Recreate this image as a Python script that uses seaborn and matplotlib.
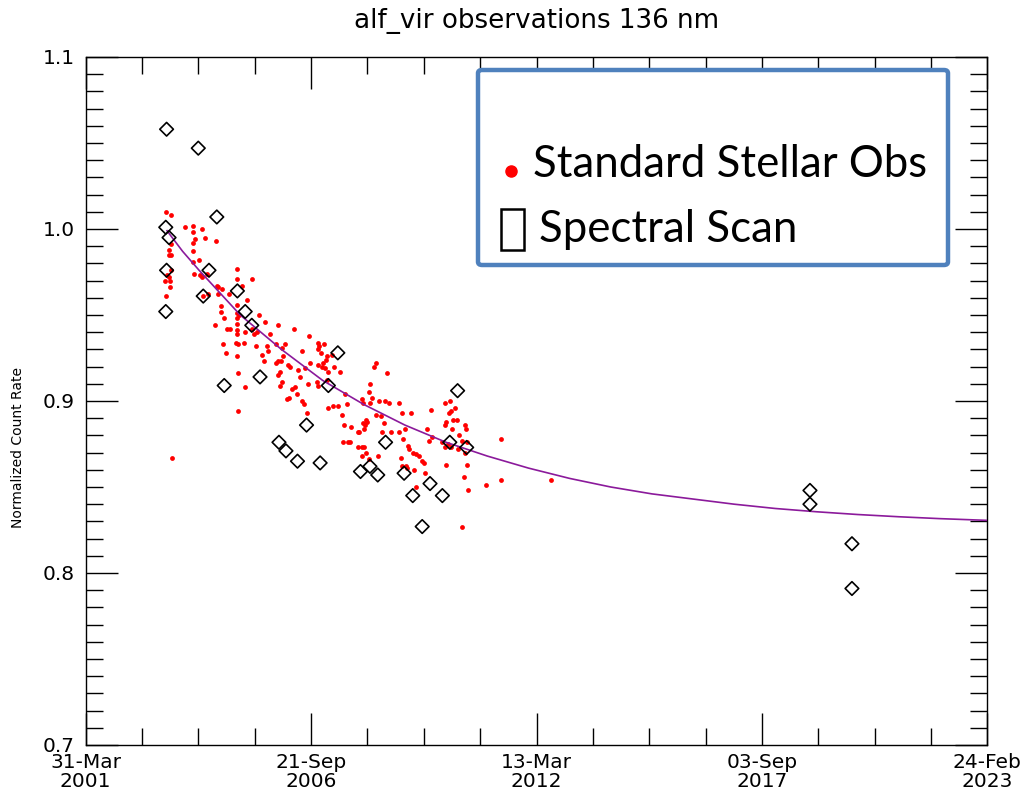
import numpy as np
import pandas as pd
import matplotlib
matplotlib.use("Agg")
import matplotlib.pyplot as plt
import matplotlib.dates as mdates
from matplotlib.ticker import FixedLocator, MultipleLocator, FormatStrFormatter
from matplotlib.patches import FancyBboxPatch, Rectangle
from matplotlib.lines import Line2D
import seaborn as sns

# ---------------- data (decimal years, normalized count rate) ----------------
stellar_year = [
    2003.19, 2003.31, 2003.66, 2003.85, 2003.86, 2004.08, 2004.14, 2003.89, 2003.86, 2004.41,
    2003.31, 2003.28, 2003.26, 2003.32, 2003.85, 2004.00, 2003.86, 2003.32, 2003.23, 2003.28,
    2003.29, 2003.18, 2003.87, 2004.02, 2004.06, 2004.19, 2004.93, 2004.93, 2005.28, 2005.05,
    2004.43, 2004.47, 2004.55, 2003.20, 2003.29, 2004.10, 2004.22, 2004.47, 2004.73, 2005.16,
    2004.91, 2004.53, 2004.53, 2004.61, 2004.93, 2004.98, 2004.93, 2005.46, 2004.39, 2004.67,
    2004.75, 2004.93, 2004.93, 2004.93, 2005.11, 2005.28, 2005.33, 2005.40, 2004.59, 2004.90,
    2004.95, 2005.09, 2005.38, 2004.65, 2004.91, 2004.95, 2005.12, 2004.95, 2005.60, 2005.91,
    2006.31, 2005.72, 2005.64, 2005.68, 2005.87, 2006.09, 2006.02, 2005.52, 2005.58, 2005.87,
    2005.92, 2005.99, 2006.17, 2006.21, 2006.05, 2006.49, 2006.68, 2006.90, 2007.03, 2006.92,
    2006.88, 2006.96, 2007.10, 2007.08, 2007.24, 2006.69, 2006.90, 2006.98, 2007.02, 2007.06,
    2007.14, 2007.28, 2007.43, 2006.41, 2006.57, 2005.97, 2005.91, 2006.46, 2006.64, 2006.86,
    2006.90, 2007.10, 2006.01, 2005.97, 2006.25, 2006.33, 2006.38, 2006.19, 2006.14, 2006.49,
    2006.55, 2007.54, 2007.59, 2007.12, 2007.26, 2007.37, 2007.46, 2006.63, 2007.53, 2007.69,
    2007.87, 2007.49, 2007.61, 2007.67, 2007.87, 2008.30, 2008.26, 2008.56, 2008.15, 2008.13,
    2008.19, 2007.95, 2007.99, 2008.37, 2008.52, 2008.62, 2008.86, 2008.16, 2008.94, 2009.15,
    2008.29, 2008.42, 2009.63, 2009.97, 2010.09, 2010.22, 2010.07, 2010.12, 2009.97, 2010.01,
    2010.17, 2010.26, 2010.46, 2010.48, 2010.15, 2010.31, 2010.38, 2010.52, 2009.54, 2009.66,
    2009.58, 2008.05, 2007.99, 2008.09, 2008.03, 2008.01, 2008.50, 2007.89, 2008.44, 2008.66,
    2008.86, 2009.00, 2008.96, 2007.95, 2008.01, 2008.05, 2007.96, 2008.34, 2008.13, 2009.08,
    2009.10, 2009.20, 2009.26, 2009.34, 2008.90, 2009.41, 2009.46, 2008.94, 2009.03, 2009.06,
    2009.23, 2009.49, 2009.89, 2009.97, 2010.05, 2010.12, 2010.30, 2010.46, 2010.52, 2009.99,
    2010.43, 2010.54, 2009.27, 2010.39, 2010.96, 2011.33, 2011.33, 2012.54, 2003.34,
]
stellar_value = [
    1.010, 1.008, 1.001, 1.002, 0.998, 1.000, 0.995, 0.994, 0.992, 0.993,
    0.991, 0.988, 0.985, 0.985, 0.987, 0.982, 0.981, 0.976, 0.973, 0.972,
    0.970, 0.970, 0.974, 0.973, 0.972, 0.974, 0.977, 0.971, 0.971, 0.967,
    0.967, 0.966, 0.965, 0.961, 0.966, 0.961, 0.962, 0.962, 0.962, 0.959,
    0.956, 0.955, 0.952, 0.948, 0.951, 0.950, 0.948, 0.950, 0.944, 0.942,
    0.942, 0.945, 0.941, 0.939, 0.940, 0.942, 0.939, 0.940, 0.933, 0.934,
    0.933, 0.934, 0.932, 0.928, 0.926, 0.916, 0.908, 0.894, 0.946, 0.944,
    0.942, 0.939, 0.932, 0.929, 0.933, 0.933, 0.931, 0.927, 0.923, 0.922,
    0.923, 0.923, 0.921, 0.920, 0.926, 0.929, 0.938, 0.934, 0.933, 0.932,
    0.930, 0.928, 0.926, 0.924, 0.927, 0.922, 0.921, 0.920, 0.922, 0.919,
    0.917, 0.920, 0.917, 0.918, 0.919, 0.917, 0.915, 0.914, 0.910, 0.911,
    0.909, 0.912, 0.911, 0.909, 0.907, 0.908, 0.904, 0.902, 0.901, 0.900,
    0.898, 0.904, 0.898, 0.896, 0.897, 0.897, 0.892, 0.893, 0.886, 0.885,
    0.882, 0.876, 0.876, 0.876, 0.873, 0.922, 0.920, 0.916, 0.910, 0.905,
    0.902, 0.901, 0.899, 0.900, 0.900, 0.899, 0.899, 0.899, 0.893, 0.893,
    0.892, 0.891, 0.895, 0.899, 0.900, 0.896, 0.893, 0.894, 0.886, 0.888,
    0.889, 0.889, 0.886, 0.884, 0.884, 0.880, 0.877, 0.876, 0.884, 0.879,
    0.877, 0.889, 0.887, 0.888, 0.886, 0.884, 0.887, 0.882, 0.882, 0.882,
    0.882, 0.884, 0.878, 0.873, 0.873, 0.870, 0.868, 0.868, 0.866, 0.874,
    0.872, 0.870, 0.869, 0.868, 0.867, 0.865, 0.864, 0.862, 0.862, 0.861,
    0.860, 0.858, 0.876, 0.873, 0.875, 0.873, 0.872, 0.870, 0.863, 0.863,
    0.856, 0.848, 0.850, 0.827, 0.851, 0.854, 0.878, 0.854, 0.867,
]
scan_year = [
    2003.21, 2003.98, 2004.43, 2003.19, 2003.27, 2003.21, 2004.24, 2004.10, 2004.93, 2003.19,
    2005.12, 2005.28, 2007.37, 2004.61, 2005.48, 2007.14, 2006.61, 2005.94, 2006.11, 2006.39,
    2006.94, 2010.28, 2008.53, 2010.09, 2010.50, 2007.92, 2008.15, 2008.34, 2008.98, 2009.19,
    2009.61, 2009.91, 2009.42, 2018.84, 2018.84, 2019.86, 2019.86,
]
scan_value = [
    1.058, 1.047, 1.007, 1.001, 0.995, 0.976, 0.976, 0.961, 0.964, 0.952,
    0.952, 0.944, 0.928, 0.909, 0.914, 0.909, 0.886, 0.876, 0.871, 0.865,
    0.864, 0.906, 0.876, 0.876, 0.873, 0.859, 0.862, 0.857, 0.858, 0.845,
    0.852, 0.845, 0.827, 0.848, 0.840, 0.817, 0.791,
]
fit_year = [
    2003.22, 2003.60, 2004.00, 2004.50, 2005.00, 2005.50, 2006.00, 2006.50, 2007.00, 2008.00,
    2009.00, 2010.00, 2011.00, 2012.00, 2013.00, 2014.00, 2015.00, 2016.00, 2017.00, 2018.00,
    2019.00, 2020.00, 2021.00, 2022.00, 2023.15,
]
fit_value = [
    0.999, 0.987, 0.976, 0.963, 0.950, 0.940, 0.930, 0.921, 0.912, 0.898,
    0.886, 0.876, 0.868, 0.861, 0.855, 0.850, 0.846, 0.843, 0.840, 0.8375,
    0.8356, 0.834, 0.8327, 0.8316, 0.8306,
]

title_text = "alf_vir observations 136 nm"
ylabel_text = "Normalized Count Rate"
legend_labels = ["Standard Stellar Obs", "Spectral Scan"]
x_start, x_end = "2001-03-31", "2023-02-24"
major_step_days, minor_step_days = 2000, 500
y_min, y_max = 0.7, 1.1


def to_date(years):
    return pd.to_datetime((np.asarray(years, dtype=float) - 1970.0) * 365.2425, unit="D")


df_stellar = pd.DataFrame({"date": to_date(stellar_year), "value": stellar_value})
df_scan = pd.DataFrame({"date": to_date(scan_year), "value": scan_value})
df_fit = pd.DataFrame({"date": to_date(fit_year), "value": fit_value})

W, H = 1025, 793
fig = plt.figure(figsize=(W / 100, H / 100), dpi=100)
ax = fig.add_axes([85.7 / W, 48 / H, (987.3 - 85.7) / W, (745 - 57) / H])

sns.scatterplot(data=df_stellar, x="date", y="value", color="#ff0000", s=12,
                linewidth=0, ax=ax, zorder=2, legend=False)
sns.lineplot(data=df_fit, x="date", y="value", color="#8b1a9b", linewidth=1.2,
             ax=ax, zorder=3, legend=False)
sns.scatterplot(data=df_scan, x="date", y="value", marker="D", s=48,
                facecolors="none", edgecolor="black", linewidth=1.2,
                ax=ax, zorder=4, legend=False)

# axes / ticks
t0 = pd.Timestamp(x_start)
t1 = pd.Timestamp(x_end)
ax.set_xlim(t0, t1)
ax.set_ylim(y_min, y_max)
n_days = (t1 - t0).days
major = [t0 + pd.Timedelta(days=d) for d in range(0, n_days + 1, major_step_days)]
minor = [t0 + pd.Timedelta(days=d) for d in range(0, n_days + 1, minor_step_days)]
ax.xaxis.set_major_locator(FixedLocator(mdates.date2num(major)))
ax.xaxis.set_minor_locator(FixedLocator(mdates.date2num(minor)))
ax.xaxis.set_major_formatter(mdates.DateFormatter("%d-%b\n%Y"))
ax.yaxis.set_major_locator(MultipleLocator(0.1))
ax.yaxis.set_minor_locator(MultipleLocator(0.01))
ax.yaxis.set_major_formatter(FormatStrFormatter("%.1f"))

ax.tick_params(which="both", direction="in", top=True, right=True, color="black",
               width=1.0)
ax.tick_params(which="major", length=23, labelsize=14.5)
ax.tick_params(which="minor", length=12)
ax.tick_params(axis="y", which="major", pad=8)
ax.tick_params(axis="x", which="major", pad=6)
for lbl in ax.get_xticklabels():
    lbl.set_linespacing(1.0)
for sp in ax.spines.values():
    sp.set_linewidth(1.0)
    sp.set_color("black")

ax.set_xlabel("")
ax.set_ylabel(ylabel_text, fontsize=10)
ax.yaxis.set_label_coords((25 - 85.7) / (987.3 - 85.7), 1 - (448 - 57) / 688)
ax.set_title(title_text, fontsize=18.8, pad=21)

# legend box (drawn manually to match the original)
box = FancyBboxPatch((478 / W, 1 - 265 / H), 470 / W, 195 / H,
                     boxstyle="round,pad=0,rounding_size=0.004",
                     transform=fig.transFigure, facecolor="white",
                     edgecolor="#4f81bd", linewidth=3.2, zorder=10)
fig.add_artist(box)
fig.add_artist(Line2D([510.5 / W], [1 - 171 / H], marker="o", color="#ff0000",
                      markersize=8, linestyle="none", transform=fig.transFigure,
                      zorder=11))
fig.add_artist(Rectangle((501 / W, 1 - 250 / H), 23 / W, 41 / H, fill=False,
                         edgecolor="black", linewidth=1.8,
                         transform=fig.transFigure, zorder=11))
fig.text(533 / W, 1 - 177 / H, legend_labels[0], fontsize=31.5, family="Lato",
         va="baseline", ha="left", zorder=11)
fig.text(539 / W, 1 - 242 / H, legend_labels[1], fontsize=31.5, family="Lato",
         va="baseline", ha="left", zorder=11)

fig.savefig("out.png", dpi=100)
